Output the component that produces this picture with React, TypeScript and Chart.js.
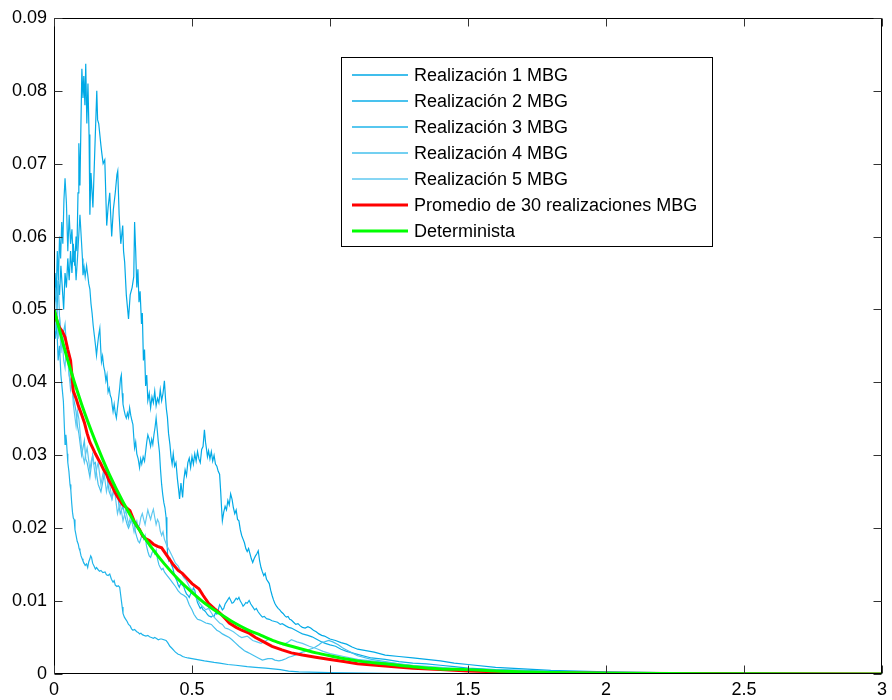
import React, { useEffect, useRef } from 'react';
import { Chart, registerables } from 'chart.js';

Chart.register(...registerables);

const seriesNames = [
  'Realización 1 MBG',
  'Realización 2 MBG',
  'Realización 3 MBG',
  'Realización 4 MBG',
  'Realización 5 MBG',
  'Promedio de 30 realizaciones MBG',
  'Determinista',
];
const seriesColors = ['#00A9E6', '#0DAEE8', '#1FB4EA', '#45C0ED', '#5FC9F0', '#FF0000', '#00FF00'];

const xTickValues = [0, 0.5, 1, 1.5, 2, 2.5, 3];
const xTickLabels = ['0', '0.5', '1', '1.5', '2', '2.5', '3'];
const yTickValues = [0, 0.01, 0.02, 0.03, 0.04, 0.05, 0.06, 0.07, 0.08, 0.09];
const yTickLabels = ['0', '0.01', '0.02', '0.03', '0.04', '0.05', '0.06', '0.07', '0.08', '0.09'];

// [t, value]
const real1 = [
  [0, 0.05], [0.005, 0.053], [0.01, 0.049], [0.015, 0.054], [0.02, 0.052], [0.025, 0.056], [0.03, 0.053],
  [0.035, 0.05], [0.04, 0.055], [0.045, 0.053], [0.05, 0.057], [0.055, 0.054], [0.06, 0.058], [0.065, 0.055],
  [0.07, 0.059], [0.075, 0.056], [0.08, 0.06], [0.083, 0.058], [0.087, 0.066], [0.09, 0.0728], [0.094, 0.067],
  [0.097, 0.074], [0.101, 0.083], [0.105, 0.079], [0.108, 0.082], [0.112, 0.078], [0.115, 0.0837], [0.119, 0.0755],
  [0.123, 0.081], [0.127, 0.074], [0.13, 0.063], [0.134, 0.0687], [0.141, 0.064], [0.148, 0.072], [0.155, 0.08],
  [0.158, 0.076], [0.162, 0.0755], [0.166, 0.074], [0.17, 0.0725], [0.173, 0.0715], [0.178, 0.07], [0.184, 0.0705],
  [0.191, 0.0615], [0.196, 0.064], [0.202, 0.066], [0.206, 0.0625], [0.209, 0.06], [0.215, 0.0637], [0.222, 0.066],
  [0.228, 0.0685], [0.231, 0.069], [0.236, 0.063], [0.242, 0.059], [0.249, 0.0615], [0.252, 0.058], [0.256, 0.0565],
  [0.262, 0.052], [0.27, 0.0487], [0.276, 0.052], [0.283, 0.053], [0.289, 0.0545], [0.292, 0.062], [0.296, 0.058],
  [0.3, 0.053], [0.304, 0.0555], [0.308, 0.051], [0.312, 0.0525], [0.317, 0.048], [0.32, 0.0495], [0.324, 0.043],
  [0.328, 0.0445], [0.332, 0.0395], [0.336, 0.041], [0.34, 0.0375], [0.345, 0.0385], [0.35, 0.0365], [0.355, 0.038],
  [0.36, 0.0372], [0.365, 0.0388], [0.37, 0.0368], [0.375, 0.0378], [0.38, 0.0372], [0.385, 0.039], [0.39, 0.0375],
  [0.395, 0.0385], [0.4, 0.0402], [0.404, 0.0378], [0.407, 0.0364], [0.411, 0.0352], [0.415, 0.033], [0.42, 0.0315],
  [0.424, 0.0298], [0.428, 0.0288], [0.432, 0.0302], [0.437, 0.0285], [0.442, 0.029], [0.447, 0.0268],
  [0.451, 0.0255], [0.455, 0.024], [0.46, 0.0262], [0.466, 0.0242], [0.47, 0.0265], [0.475, 0.028], [0.48, 0.0272],
  [0.485, 0.029], [0.49, 0.0296], [0.495, 0.0283], [0.5, 0.0298], [0.505, 0.0288], [0.51, 0.0302], [0.515, 0.0292],
  [0.52, 0.0305], [0.525, 0.0295], [0.53, 0.029], [0.535, 0.0308], [0.54, 0.0312], [0.545, 0.0335], [0.549, 0.0318],
  [0.552, 0.031], [0.556, 0.0298], [0.56, 0.0306], [0.565, 0.0295], [0.57, 0.0305], [0.575, 0.0292], [0.58, 0.03],
  [0.585, 0.0288], [0.59, 0.0285], [0.595, 0.0278], [0.6, 0.0274], [0.604, 0.025], [0.607, 0.0228], [0.61, 0.021],
  [0.615, 0.0222], [0.62, 0.023], [0.625, 0.0225], [0.63, 0.0238], [0.635, 0.0232], [0.64, 0.0247], [0.645, 0.024],
  [0.65, 0.0228], [0.655, 0.022], [0.66, 0.0225], [0.665, 0.0212], [0.67, 0.021], [0.675, 0.0198], [0.68, 0.019],
  [0.685, 0.0185], [0.69, 0.018], [0.695, 0.0172], [0.7, 0.0168], [0.705, 0.0172], [0.71, 0.0165], [0.715, 0.0158],
  [0.72, 0.0153], [0.725, 0.0158], [0.73, 0.0162], [0.735, 0.0165], [0.74, 0.0169], [0.745, 0.0155], [0.75, 0.0146],
  [0.755, 0.014], [0.76, 0.0135], [0.765, 0.0138], [0.77, 0.013], [0.775, 0.0127], [0.78, 0.0124], [0.785, 0.0115],
  [0.79, 0.0108], [0.795, 0.0102], [0.8, 0.0097], [0.806, 0.0093], [0.812, 0.009], [0.818, 0.0088], [0.824, 0.0085],
  [0.83, 0.0083], [0.836, 0.008], [0.842, 0.0078], [0.848, 0.0079], [0.854, 0.0075], [0.86, 0.0074], [0.868, 0.0071],
  [0.876, 0.0068], [0.884, 0.0069], [0.892, 0.0066], [0.9, 0.0064], [0.91, 0.0063], [0.92, 0.0065], [0.93, 0.0063],
  [0.94, 0.006], [0.95, 0.0058], [0.96, 0.0055], [0.97, 0.0053], [0.98, 0.0052], [0.99, 0.005], [1.0, 0.0048],
  [1.02, 0.0046], [1.04, 0.0043], [1.06, 0.0041], [1.08, 0.0037], [1.1, 0.0034], [1.13, 0.0032], [1.16, 0.003],
  [1.2, 0.0026], [1.25, 0.0024], [1.3, 0.0022], [1.35, 0.002], [1.4, 0.0018], [1.45, 0.0015], [1.5, 0.0013],
  [1.6, 0.0009], [1.7, 0.0007], [1.8, 0.0005], [2.0, 0.0003], [2.2, 0.0002], [2.5, 0.0001], [3.0, 0.00005],
];

const real2 = [
  [0, 0.05], [0.004, 0.055], [0.008, 0.052], [0.012, 0.058], [0.016, 0.054], [0.02, 0.06], [0.024, 0.057],
  [0.028, 0.062], [0.032, 0.059], [0.036, 0.065], [0.04, 0.068], [0.045, 0.0646], [0.05, 0.058], [0.055, 0.063],
  [0.06, 0.059], [0.065, 0.061], [0.07, 0.0565], [0.075, 0.058], [0.08, 0.054], [0.085, 0.057], [0.094, 0.063],
  [0.1, 0.059], [0.103, 0.057], [0.105, 0.0547], [0.109, 0.0558], [0.113, 0.0545], [0.118, 0.056], [0.122, 0.0548],
  [0.126, 0.0535], [0.13, 0.0528], [0.134, 0.0508], [0.138, 0.0495], [0.142, 0.0478], [0.146, 0.0465],
  [0.15, 0.0452], [0.154, 0.0437], [0.158, 0.0452], [0.162, 0.0465], [0.166, 0.0474], [0.169, 0.0448],
  [0.172, 0.0428], [0.176, 0.0436], [0.18, 0.0422], [0.184, 0.0415], [0.188, 0.0402], [0.192, 0.041],
  [0.196, 0.0387], [0.2, 0.0392], [0.204, 0.0382], [0.208, 0.0378], [0.211, 0.0368], [0.214, 0.036],
  [0.218, 0.037], [0.222, 0.0358], [0.226, 0.0351], [0.23, 0.0365], [0.234, 0.0378], [0.238, 0.0392],
  [0.241, 0.0405], [0.244, 0.041], [0.247, 0.0385], [0.25, 0.037], [0.254, 0.0362], [0.258, 0.0355],
  [0.262, 0.0351], [0.266, 0.0358], [0.27, 0.0352], [0.274, 0.0365], [0.278, 0.0355], [0.282, 0.0348],
  [0.286, 0.0342], [0.289, 0.0325], [0.292, 0.031], [0.296, 0.0318], [0.3, 0.0302], [0.305, 0.0295], [0.31, 0.0283],
  [0.314, 0.0295], [0.318, 0.0288], [0.323, 0.0298], [0.328, 0.0292], [0.332, 0.0305], [0.336, 0.0318],
  [0.34, 0.0328], [0.345, 0.0322], [0.35, 0.0312], [0.354, 0.0322], [0.358, 0.0315], [0.362, 0.0328],
  [0.366, 0.0338], [0.37, 0.0351], [0.374, 0.0335], [0.378, 0.0318], [0.382, 0.0305], [0.386, 0.028], [0.39, 0.026],
  [0.394, 0.0246], [0.398, 0.0235], [0.402, 0.0228], [0.406, 0.0215], [0.409, 0.0185], [0.412, 0.016],
  [0.416, 0.0155], [0.42, 0.0158], [0.425, 0.015], [0.43, 0.0146], [0.435, 0.0138], [0.44, 0.0132],
  [0.445, 0.0128], [0.45, 0.0122], [0.454, 0.0119], [0.46, 0.0125], [0.465, 0.0122], [0.47, 0.012],
  [0.475, 0.0114], [0.48, 0.011], [0.485, 0.0108], [0.49, 0.0105], [0.495, 0.011], [0.5, 0.0112], [0.505, 0.0118],
  [0.51, 0.0115], [0.515, 0.0105], [0.52, 0.0098], [0.525, 0.0094], [0.53, 0.009], [0.535, 0.0092], [0.54, 0.0088],
  [0.545, 0.0087], [0.55, 0.0085], [0.555, 0.0082], [0.56, 0.008], [0.565, 0.0079], [0.57, 0.0078], [0.575, 0.008],
  [0.58, 0.0079], [0.585, 0.0084], [0.59, 0.0082], [0.595, 0.0088], [0.6, 0.0095], [0.605, 0.0092], [0.61, 0.0088],
  [0.615, 0.009], [0.62, 0.0096], [0.625, 0.0099], [0.63, 0.0102], [0.635, 0.0105], [0.64, 0.0101],
  [0.645, 0.0097], [0.65, 0.0098], [0.655, 0.0101], [0.66, 0.0104], [0.665, 0.0102], [0.67, 0.0105], [0.675, 0.01],
  [0.68, 0.0097], [0.685, 0.0093], [0.69, 0.0095], [0.695, 0.0098], [0.7, 0.0097], [0.707, 0.0101],
  [0.713, 0.0096], [0.72, 0.0092], [0.727, 0.0088], [0.733, 0.009], [0.74, 0.0085], [0.748, 0.0081],
  [0.755, 0.0078], [0.762, 0.0079], [0.77, 0.0076], [0.78, 0.0075], [0.79, 0.0073], [0.8, 0.0072], [0.81, 0.0071],
  [0.82, 0.0068], [0.827, 0.0069], [0.84, 0.0066], [0.85, 0.0064], [0.86, 0.0063], [0.875, 0.006], [0.89, 0.0057],
  [0.9, 0.0055], [0.92, 0.0053], [0.935, 0.0051], [0.95, 0.0048], [0.96, 0.0046], [0.97, 0.0044], [0.983, 0.0042],
  [1.0, 0.004], [1.02, 0.0038], [1.04, 0.0034], [1.06, 0.0031], [1.08, 0.0029], [1.1, 0.0027], [1.15, 0.0022],
  [1.2, 0.002], [1.25, 0.0017], [1.3, 0.0015], [1.35, 0.0014], [1.4, 0.0012], [1.45, 0.001], [1.5, 0.0008],
  [1.6, 0.0006], [1.7, 0.0005], [1.85, 0.0003], [2.0, 0.0002], [2.5, 0.0001], [3.0, 0],
];

const real3 = [
  [0, 0.05], [0.005, 0.046], [0.01, 0.048], [0.015, 0.043], [0.02, 0.045], [0.025, 0.041], [0.03, 0.039],
  [0.034, 0.0374], [0.037, 0.0345], [0.04, 0.0315], [0.043, 0.0328], [0.045, 0.032], [0.048, 0.0302], [0.05, 0.029],
  [0.054, 0.0278], [0.058, 0.026], [0.061, 0.0252], [0.064, 0.0235], [0.067, 0.0222], [0.07, 0.0214],
  [0.073, 0.0212], [0.076, 0.0198], [0.08, 0.019], [0.084, 0.0182], [0.088, 0.0178], [0.091, 0.0172],
  [0.094, 0.0169], [0.098, 0.0162], [0.102, 0.0158], [0.105, 0.0155], [0.109, 0.0152], [0.113, 0.0149],
  [0.118, 0.0151], [0.122, 0.0146], [0.126, 0.0154], [0.13, 0.0158], [0.133, 0.0162], [0.136, 0.016], [0.14, 0.0152],
  [0.145, 0.0148], [0.15, 0.0144], [0.154, 0.0146], [0.16, 0.0143], [0.165, 0.0141], [0.17, 0.0142],
  [0.177, 0.0139], [0.185, 0.014], [0.19, 0.0136], [0.196, 0.0135], [0.202, 0.0137], [0.208, 0.013],
  [0.214, 0.0126], [0.218, 0.0128], [0.222, 0.0122], [0.228, 0.012], [0.233, 0.0121], [0.238, 0.0119],
  [0.241, 0.011], [0.244, 0.0101], [0.247, 0.0092], [0.25, 0.0083], [0.255, 0.0078], [0.26, 0.0075],
  [0.265, 0.0072], [0.27, 0.0068], [0.276, 0.0066], [0.281, 0.0062], [0.286, 0.006], [0.292, 0.0061], [0.3, 0.0058],
  [0.305, 0.0057], [0.31, 0.0055], [0.315, 0.0056], [0.32, 0.0054], [0.326, 0.0053], [0.333, 0.0052],
  [0.34, 0.0053], [0.346, 0.0051], [0.353, 0.005], [0.36, 0.0049], [0.365, 0.005], [0.37, 0.0049], [0.378, 0.0047],
  [0.385, 0.0048], [0.39, 0.0048], [0.398, 0.0047], [0.406, 0.0046], [0.412, 0.0043], [0.42, 0.0038],
  [0.428, 0.0035], [0.435, 0.0032], [0.44, 0.003], [0.45, 0.0027], [0.458, 0.0026], [0.466, 0.0024],
  [0.475, 0.0023], [0.485, 0.0022], [0.5, 0.0021], [0.515, 0.002], [0.53, 0.0019], [0.545, 0.0018],
  [0.563, 0.0017], [0.58, 0.0016], [0.6, 0.0015], [0.63, 0.0013], [0.659, 0.0012], [0.7, 0.001], [0.73, 0.0009],
  [0.767, 0.0008], [0.82, 0.0006], [0.85, 0.0004], [0.887, 0.0003], [1.0, 0.0002], [1.2, 0.0001], [1.5, 0.00005],
  [2.0, 0], [3.0, 0],
];

const real4 = [
  [0, 0.05], [0.005, 0.053], [0.01, 0.051], [0.015, 0.054], [0.02, 0.049], [0.025, 0.047], [0.03, 0.045],
  [0.035, 0.047], [0.04, 0.048], [0.045, 0.045], [0.05, 0.043], [0.055, 0.041], [0.06, 0.04], [0.065, 0.041],
  [0.07, 0.038], [0.075, 0.037], [0.08, 0.036], [0.085, 0.034], [0.09, 0.033], [0.095, 0.0315], [0.1, 0.03],
  [0.105, 0.031], [0.11, 0.032], [0.115, 0.0295], [0.12, 0.029], [0.125, 0.028], [0.13, 0.027], [0.135, 0.0285],
  [0.14, 0.03], [0.145, 0.0288], [0.15, 0.029], [0.155, 0.0272], [0.16, 0.026], [0.165, 0.0255], [0.17, 0.025],
  [0.175, 0.026], [0.18, 0.027], [0.185, 0.0282], [0.19, 0.028], [0.195, 0.0262], [0.2, 0.025], [0.205, 0.0245],
  [0.21, 0.024], [0.215, 0.0252], [0.22, 0.026], [0.225, 0.0255], [0.23, 0.025], [0.235, 0.0232], [0.24, 0.022],
  [0.245, 0.0225], [0.25, 0.023], [0.255, 0.022], [0.26, 0.0212], [0.265, 0.0205], [0.27, 0.02], [0.275, 0.0205],
  [0.28, 0.0212], [0.285, 0.0205], [0.29, 0.021], [0.295, 0.0195], [0.3, 0.0188], [0.305, 0.0182], [0.31, 0.018],
  [0.315, 0.0186], [0.32, 0.0192], [0.325, 0.0185], [0.33, 0.019], [0.335, 0.0176], [0.34, 0.0168],
  [0.345, 0.0162], [0.35, 0.016], [0.355, 0.0166], [0.36, 0.017], [0.365, 0.0165], [0.37, 0.017], [0.375, 0.0158],
  [0.38, 0.015], [0.385, 0.0146], [0.39, 0.0143], [0.395, 0.0145], [0.4, 0.014], [0.41, 0.0135], [0.42, 0.013],
  [0.43, 0.0125], [0.44, 0.012], [0.45, 0.0114], [0.46, 0.011], [0.47, 0.0108], [0.48, 0.0105], [0.49, 0.0095],
  [0.5, 0.0088], [0.507, 0.0082], [0.514, 0.0078], [0.52, 0.0075], [0.53, 0.0074], [0.54, 0.0072], [0.55, 0.007],
  [0.56, 0.0069], [0.57, 0.0068], [0.58, 0.0064], [0.59, 0.006], [0.6, 0.0058], [0.61, 0.0055], [0.62, 0.0053],
  [0.635, 0.005], [0.645, 0.0047], [0.659, 0.0042], [0.67, 0.0038], [0.68, 0.0035], [0.69, 0.0032], [0.7, 0.003],
  [0.71, 0.0028], [0.72, 0.0026], [0.73, 0.0024], [0.74, 0.0022], [0.755, 0.0019], [0.765, 0.002],
  [0.775, 0.0021], [0.79, 0.0021], [0.8, 0.0019], [0.815, 0.0018], [0.827, 0.0019], [0.84, 0.0021],
  [0.85, 0.0023], [0.86, 0.0024], [0.875, 0.0026], [0.887, 0.0028], [0.9, 0.003], [0.91, 0.0031], [0.92, 0.0033],
  [0.935, 0.0035], [0.947, 0.0037], [0.96, 0.004], [0.97, 0.0043], [0.98, 0.0044], [0.995, 0.0046],
  [1.01, 0.0044], [1.03, 0.004], [1.045, 0.0036], [1.06, 0.0033], [1.08, 0.0029], [1.1, 0.0025], [1.15, 0.002],
  [1.2, 0.0017], [1.3, 0.0011], [1.4, 0.0008], [1.5, 0.0006], [1.8, 0.0003], [2.2, 0.0001], [3.0, 0],
];

const real5 = [
  [0, 0.05], [0.005, 0.047], [0.01, 0.051], [0.015, 0.046], [0.02, 0.049], [0.025, 0.044], [0.03, 0.046],
  [0.035, 0.043], [0.04, 0.042], [0.045, 0.045], [0.05, 0.044], [0.055, 0.041], [0.06, 0.039], [0.065, 0.04],
  [0.07, 0.037], [0.075, 0.0355], [0.08, 0.034], [0.085, 0.036], [0.09, 0.035], [0.095, 0.033], [0.1, 0.031],
  [0.105, 0.0298], [0.11, 0.029], [0.115, 0.0302], [0.12, 0.031], [0.125, 0.0295], [0.13, 0.028], [0.135, 0.0292],
  [0.14, 0.03], [0.145, 0.0285], [0.15, 0.027], [0.155, 0.0282], [0.16, 0.029], [0.165, 0.0275], [0.17, 0.026],
  [0.175, 0.027], [0.18, 0.028], [0.185, 0.0265], [0.19, 0.025], [0.195, 0.026], [0.2, 0.0265], [0.205, 0.0252],
  [0.21, 0.024], [0.215, 0.0248], [0.22, 0.025], [0.225, 0.0235], [0.23, 0.022], [0.235, 0.0228], [0.24, 0.0235],
  [0.245, 0.0222], [0.25, 0.021], [0.255, 0.0218], [0.26, 0.0225], [0.265, 0.0215], [0.27, 0.0205],
  [0.275, 0.0212], [0.28, 0.022], [0.285, 0.0205], [0.29, 0.0195], [0.295, 0.0205], [0.3, 0.021], [0.305, 0.02],
  [0.31, 0.0205], [0.315, 0.0215], [0.32, 0.022], [0.325, 0.0212], [0.33, 0.0205], [0.335, 0.0215],
  [0.34, 0.0225], [0.345, 0.0218], [0.35, 0.0212], [0.355, 0.022], [0.36, 0.0226], [0.365, 0.0215],
  [0.37, 0.0205], [0.375, 0.0212], [0.38, 0.0208], [0.385, 0.0196], [0.39, 0.019], [0.395, 0.0195], [0.4, 0.0185],
  [0.41, 0.0175], [0.42, 0.0168], [0.43, 0.016], [0.44, 0.0152], [0.45, 0.0148], [0.46, 0.014], [0.47, 0.0132],
  [0.48, 0.0128], [0.49, 0.012], [0.5, 0.0115], [0.51, 0.011], [0.52, 0.0102], [0.53, 0.0096], [0.54, 0.0092],
  [0.55, 0.0088], [0.56, 0.009], [0.57, 0.0084], [0.58, 0.0078], [0.59, 0.0074], [0.6, 0.007], [0.61, 0.0068],
  [0.62, 0.0063], [0.63, 0.0062], [0.64, 0.006], [0.65, 0.0058], [0.66, 0.0055], [0.67, 0.0052], [0.68, 0.005],
  [0.69, 0.0051], [0.7, 0.0052], [0.71, 0.0049], [0.72, 0.0046], [0.735, 0.0044], [0.75, 0.0042],
  [0.765, 0.0045], [0.78, 0.0048], [0.79, 0.0046], [0.8, 0.0045], [0.815, 0.0042], [0.83, 0.004],
  [0.845, 0.0043], [0.86, 0.0047], [0.88, 0.0044], [0.9, 0.0042], [0.925, 0.0038], [0.95, 0.0035],
  [0.975, 0.0031], [1.0, 0.0028], [1.05, 0.0024], [1.1, 0.002], [1.2, 0.0016], [1.3, 0.0012], [1.4, 0.0009],
  [1.5, 0.0006], [1.7, 0.0004], [2.0, 0.0002], [2.5, 0.0001], [3.0, 0],
];

const promedio = [
  [0, 0.05], [0.01, 0.0485], [0.02, 0.0475], [0.03, 0.047], [0.04, 0.0462], [0.05, 0.0445], [0.06, 0.043],
  [0.065, 0.041], [0.07, 0.0388], [0.08, 0.0378], [0.09, 0.0366], [0.1, 0.0356], [0.11, 0.0345], [0.12, 0.033],
  [0.13, 0.0318], [0.14, 0.031], [0.15, 0.0302], [0.16, 0.0295], [0.17, 0.0288], [0.18, 0.028], [0.19, 0.0274],
  [0.2, 0.0265], [0.21, 0.0258], [0.22, 0.025], [0.23, 0.0243], [0.24, 0.0237], [0.25, 0.0232], [0.26, 0.0229],
  [0.275, 0.0224], [0.29, 0.021], [0.3, 0.0203], [0.31, 0.0198], [0.32, 0.019], [0.33, 0.0186], [0.345, 0.0183],
  [0.36, 0.0178], [0.375, 0.0175], [0.39, 0.0173], [0.41, 0.0162], [0.43, 0.0151], [0.45, 0.0142],
  [0.465, 0.0138], [0.48, 0.0132], [0.5, 0.0124], [0.525, 0.0117], [0.54, 0.0108], [0.56, 0.0097], [0.58, 0.009],
  [0.6, 0.0084], [0.62, 0.0076], [0.635, 0.007], [0.66, 0.0064], [0.68, 0.006], [0.707, 0.0056], [0.73, 0.005],
  [0.76, 0.0044], [0.79, 0.0038], [0.826, 0.0033], [0.86, 0.0029], [0.9, 0.0026], [0.948, 0.0023], [1.0, 0.002],
  [1.05, 0.0017], [1.1, 0.0014], [1.2, 0.0011], [1.3, 0.0008], [1.4, 0.0006], [1.5, 0.0004], [1.7, 0.0002],
  [2.0, 0.0001], [2.5, 0.00003], [3.0, 0],
];

const determinista = [
  [0, 0.05], [0.05, 0.043], [0.1, 0.037], [0.15, 0.0319], [0.2, 0.0274], [0.25, 0.0236], [0.3, 0.0203],
  [0.35, 0.0175], [0.4, 0.0151], [0.45, 0.013], [0.5, 0.0112], [0.55, 0.0096], [0.6, 0.0083], [0.65, 0.0071],
  [0.7, 0.0061], [0.75, 0.0053], [0.8, 0.0045], [0.85, 0.0039], [0.9, 0.0034], [0.95, 0.0029], [1.0, 0.0025],
  [1.1, 0.0018], [1.2, 0.0014], [1.3, 0.001], [1.4, 0.0007], [1.5, 0.0006], [1.6, 0.0004], [1.8, 0.0002],
  [2.0, 0.0001], [2.5, 0.00003], [3.0, 0],
];

const allSeries = [real1, real2, real3, real4, real5, promedio, determinista];
const seriesWidths = [1.2, 1.2, 1.2, 1.2, 1.2, 3, 3];

const FONT = '"Liberation Sans", Arial, Helvetica, sans-serif';

const framePlugin = {
  id: 'matlabFrame',
  afterDatasetsDraw(chart: any) {
    const { ctx, chartArea: a, scales } = chart;
    ctx.save();
    ctx.strokeStyle = '#000';
    ctx.lineWidth = 1;
    const L = Math.round(a.left) + 0.5;
    const R = Math.round(a.right) - 0.5;
    const T = Math.round(a.top) + 0.5;
    const B = Math.round(a.bottom) - 0.5;
    ctx.beginPath();
    ctx.rect(L, T, R - L, B - T);
    ctx.stroke();
    ctx.strokeStyle = '#333';
    ctx.beginPath();
    const tl = 8;
    xTickValues.forEach((v) => {
      const px = Math.round(scales.x.getPixelForValue(v)) + 0.5;
      ctx.moveTo(px, B);
      ctx.lineTo(px, B - tl);
      ctx.moveTo(px, T);
      ctx.lineTo(px, T + tl);
    });
    yTickValues.forEach((v) => {
      const py = Math.round(scales.y.getPixelForValue(v)) + 0.5;
      ctx.moveTo(L, py);
      ctx.lineTo(L + tl, py);
      ctx.moveTo(R, py);
      ctx.lineTo(R - tl, py);
    });
    ctx.stroke();
    ctx.restore();
  },
  afterDraw(chart: any) {
    const { ctx } = chart;
    ctx.save();
    const bx = 341, by = 57, bw = 372, bh = 190;
    ctx.fillStyle = '#fff';
    ctx.fillRect(bx, by, bw, bh);
    ctx.strokeStyle = '#000';
    ctx.lineWidth = 1;
    ctx.strokeRect(bx + 0.5, by + 0.5, bw - 1, bh - 1);
    ctx.font = '18px ' + FONT;
    ctx.textBaseline = 'middle';
    ctx.textAlign = 'left';
    seriesNames.forEach((name, i) => {
      const y = 75 + i * 26;
      ctx.strokeStyle = seriesColors[i];
      ctx.lineWidth = i >= 5 ? 3 : 1.5;
      ctx.beginPath();
      ctx.moveTo(352, y);
      ctx.lineTo(408, y);
      ctx.stroke();
      ctx.fillStyle = '#000';
      ctx.fillText(name, 414, y + 1);
    });
    ctx.restore();
  },
};

export default function App() {
  const ref = useRef<HTMLCanvasElement | null>(null);
  useEffect(() => {
    document.body.style.margin = '0';
    if (!ref.current) return;
    const datasets = allSeries.map((s, i) => ({
      label: seriesNames[i],
      data: s.map((p) => ({ x: p[0], y: p[1] })),
      borderColor: seriesColors[i],
      backgroundColor: seriesColors[i],
      borderWidth: seriesWidths[i],
      pointRadius: 0,
      fill: false,
      tension: i === 6 ? 0.4 : 0,
      cubicInterpolationMode: i === 6 ? ('monotone' as const) : ('default' as const),
      order: 6 - i,
    }));
    const chart = new Chart(ref.current, {
      type: 'line',
      data: { datasets },
      options: {
        animation: false,
        responsive: false,
        maintainAspectRatio: false,
        layout: { padding: { top: 17, right: 6, left: 0, bottom: 0 } },
        plugins: { legend: { display: false }, tooltip: { enabled: false } },
        scales: {
          x: {
            type: 'linear',
            min: 0,
            max: 3,
            grid: { display: false, drawTicks: false },
            border: { display: false },
            ticks: {
              stepSize: 0.5,
              padding: 5,
              color: '#000',
              font: { family: FONT, size: 18 },
              maxRotation: 0,
              autoSkip: false,
              callback: (_v: any, i: number) => xTickLabels[i],
            },
            afterFit: (s: any) => { s.height = 26; },
          },
          y: {
            type: 'linear',
            min: 0,
            max: 0.09,
            grid: { display: false, drawTicks: false },
            border: { display: false },
            ticks: {
              stepSize: 0.01,
              padding: 7,
              color: '#000',
              font: { family: FONT, size: 18 },
              autoSkip: false,
              callback: (_v: any, i: number) => yTickLabels[i],
            },
            afterFit: (s: any) => { s.width = 54; },
          },
        },
      },
      plugins: [framePlugin],
    });
    return () => chart.destroy();
  }, []);
  return (
    <div style={{ width: 892, height: 700 }}>
      <canvas ref={ref} width={892} height={700} style={{ display: 'block' }} />
    </div>
  );
}
